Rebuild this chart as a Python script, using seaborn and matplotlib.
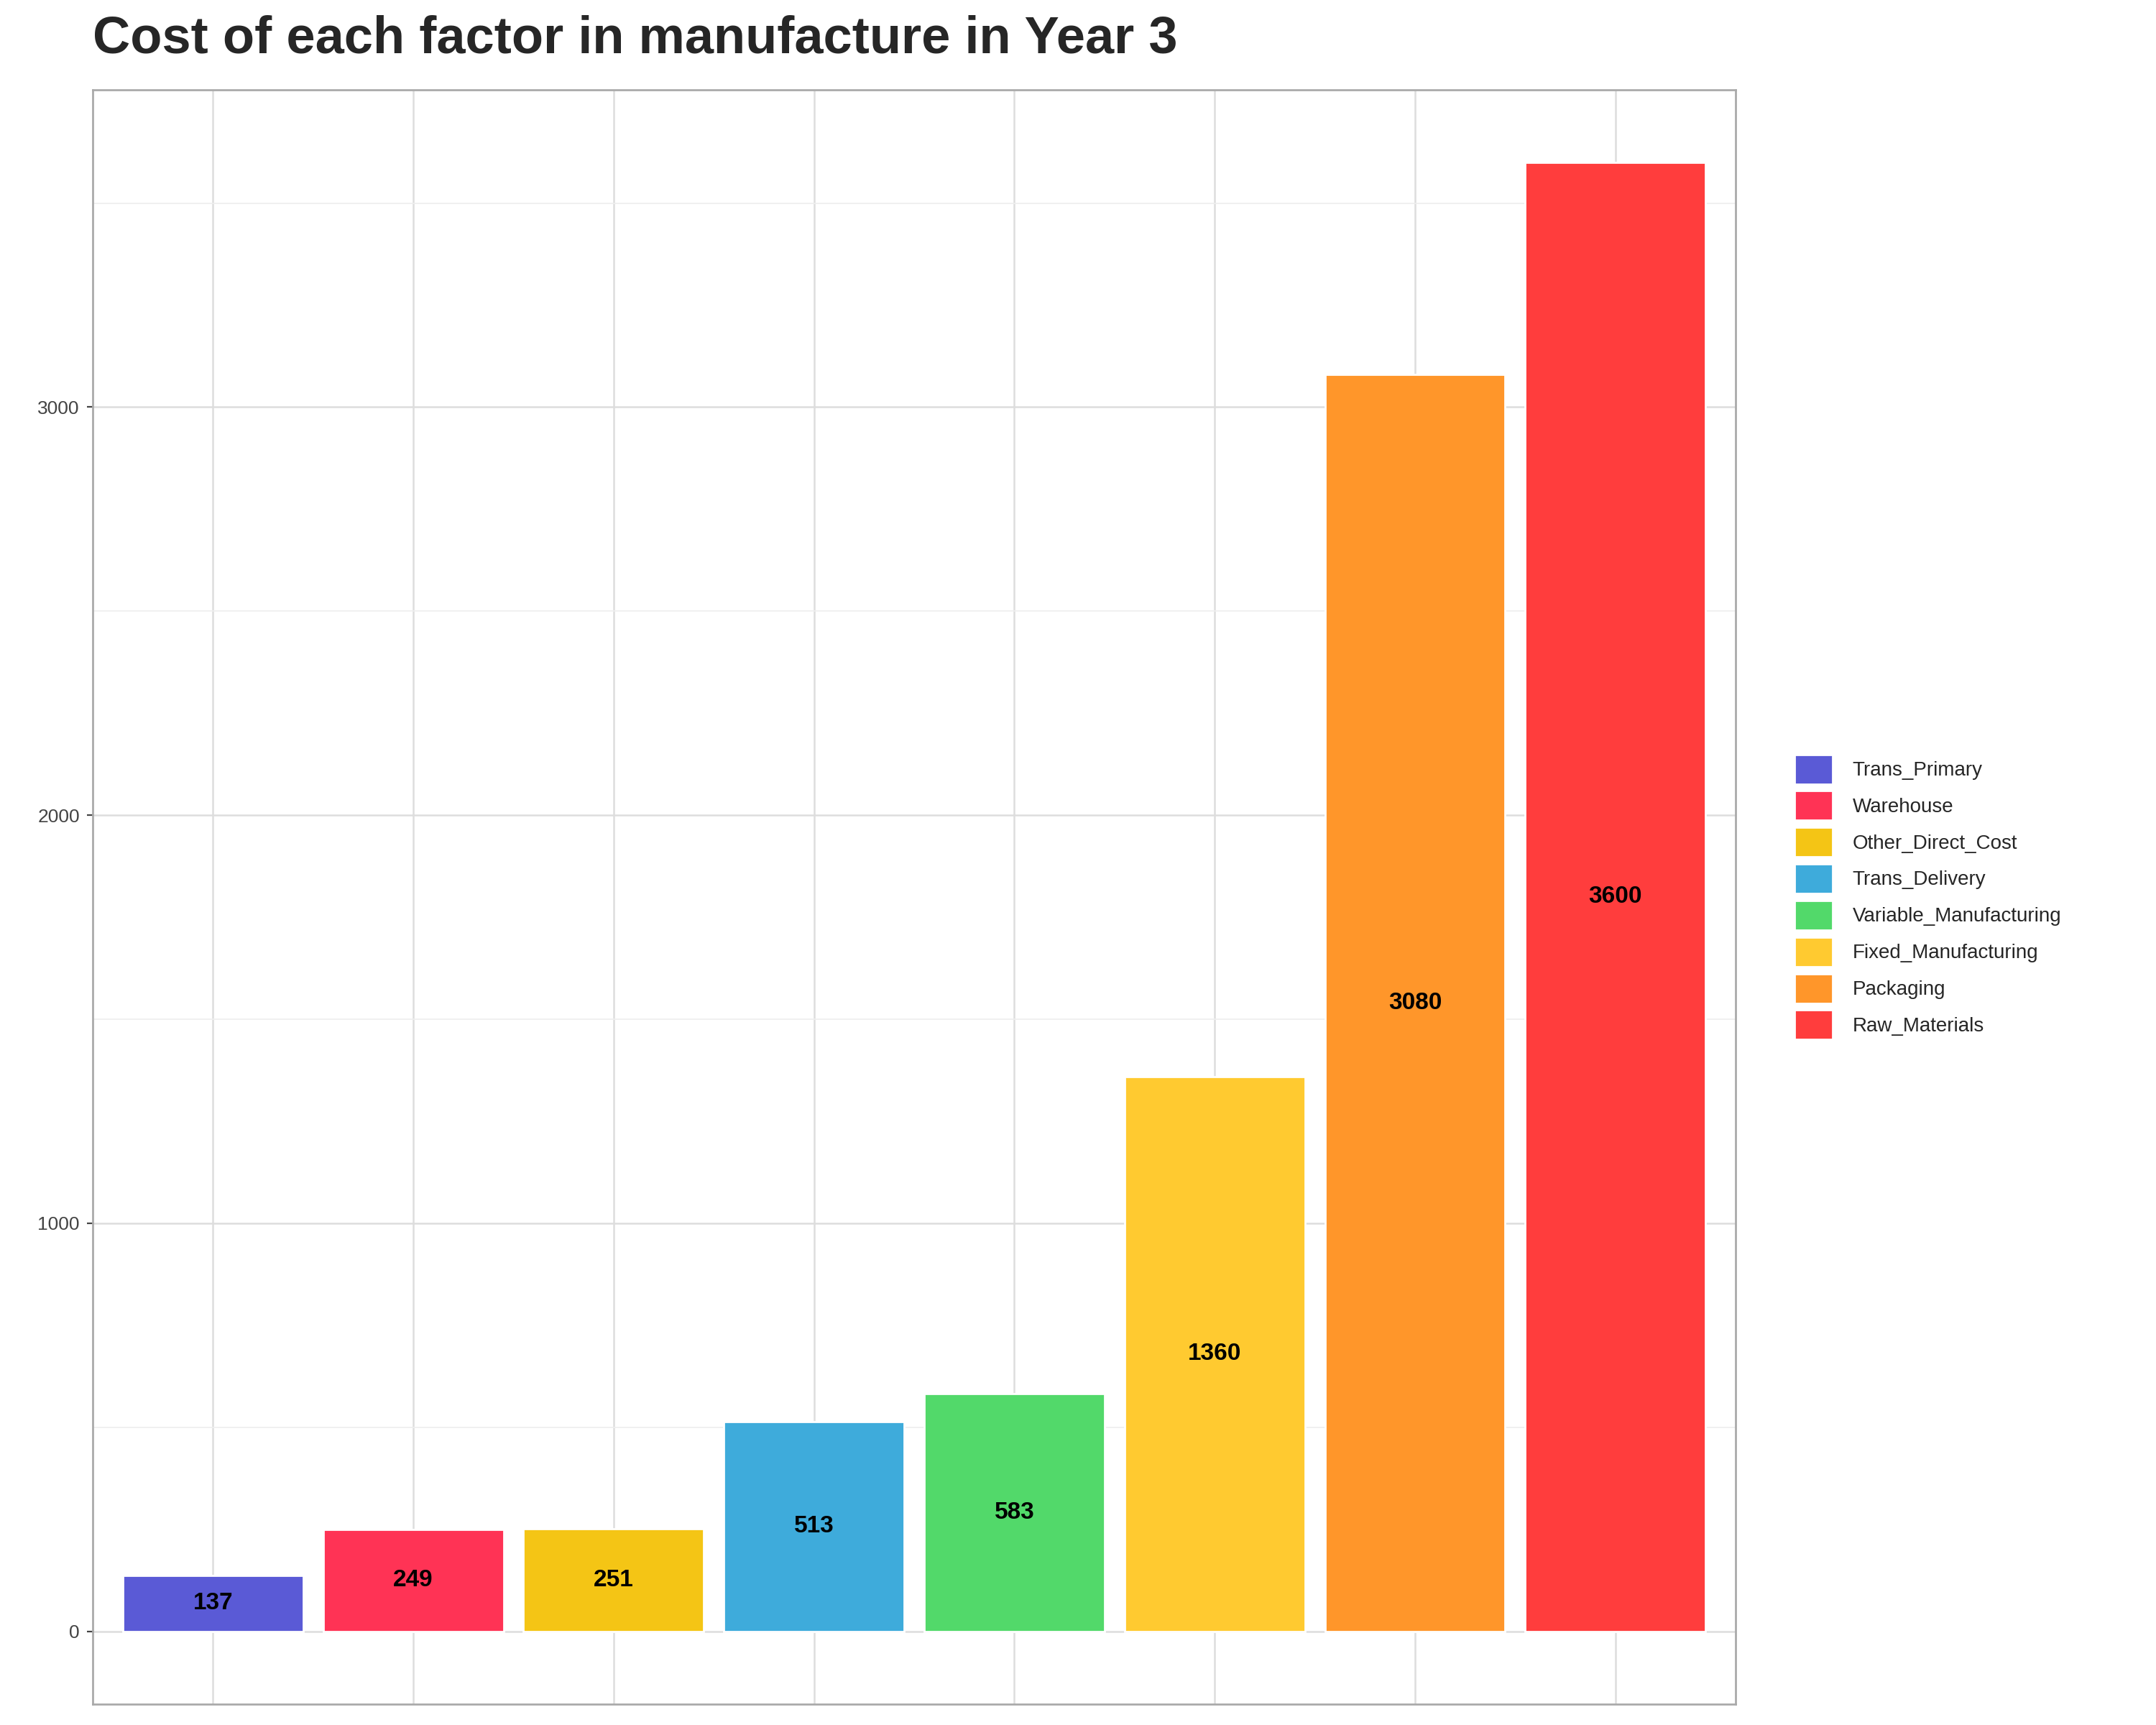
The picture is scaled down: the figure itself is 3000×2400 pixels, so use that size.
import matplotlib
matplotlib.use("Agg")
import matplotlib.pyplot as plt
import seaborn as sns
import pandas as pd
from matplotlib.patches import Patch
from matplotlib.ticker import MultipleLocator

categories = ["Trans_Primary", "Warehouse", "Other_Direct_Cost", "Trans_Delivery",
              "Variable_Manufacturing", "Fixed_Manufacturing", "Packaging", "Raw_Materials"]
values = [137, 249, 251, 513, 583, 1360, 3080, 3600]
colors = ["#5A5AD6", "#FF3355", "#F4C515", "#3EABDB", "#52D96A", "#FFCA30", "#FF962A", "#FF3D3D"]

sns.set_theme(style="white")
plt.rcParams['font.family'] = ['Liberation Sans', 'DejaVu Sans']

df = pd.DataFrame({"cat": categories, "val": values})
fig = plt.figure(figsize=(15, 12), dpi=200)
ax = fig.add_axes([0.043, 0.012, 0.762, 0.936])
sns.barplot(data=df, x="cat", y="val", hue="cat", palette=colors, order=categories,
            hue_order=categories, width=0.9, legend=False, ax=ax, saturation=1)
for i, v in enumerate(values):
    ax.text(i, v / 2, str(v), ha="center", va="center", fontsize=12, fontweight="bold", color="black")

ax.set_xlim(-0.6, 7.6)
ax.set_ylim(-179, 3778)
ax.yaxis.set_major_locator(MultipleLocator(1000))
ax.yaxis.set_minor_locator(MultipleLocator(500))
ax.grid(True, which="major", color="#DDDDDD", lw=0.9)
ax.grid(True, which="minor", axis="y", color="#EEEEEE", lw=0.6)
ax.set_axisbelow(True)
ax.set_xticklabels([])
ax.tick_params(axis="x", length=0)
ax.tick_params(axis="y", labelsize=9.5, colors="#444444", length=3, left=True, width=0.8)
ax.set_xlabel("")
ax.set_ylabel("")
for s in ax.spines.values():
    s.set_color("#AAAAAA")
    s.set_linewidth(1.0)

handles = [Patch(facecolor=c, label=l) for c, l in zip(colors, categories)]
ax.legend(handles=handles, loc="center left", bbox_to_anchor=(1.025, 0.5), frameon=False,
          fontsize=10, handlelength=1.9, handleheight=1.9, labelspacing=0.35, handletextpad=1.0)

fig.text(0.043, 0.963, "Cost of each factor in manufacture in Year 3", fontsize=26,
         fontweight="bold", ha="left", va="bottom")
fig.savefig("out.png", dpi=200)
